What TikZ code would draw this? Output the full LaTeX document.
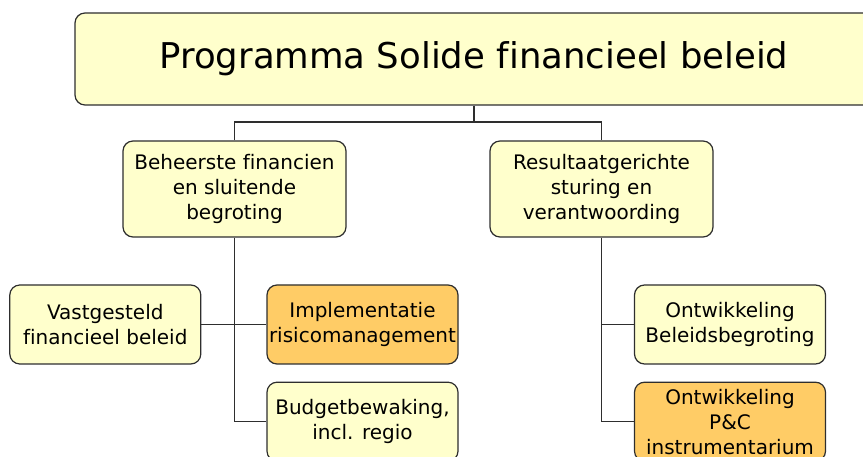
\documentclass[tikz,border=0pt]{standalone}
\usepackage{fontspec}
\setmainfont{DejaVu Sans}[Ligatures=CommonOff]
\usetikzlibrary{positioning}
\definecolor{geel}{HTML}{FFFFCC}
\definecolor{oranje}{HTML}{FFCC66}
\definecolor{rand}{HTML}{2E2E2E}

\begin{document}
\begin{tikzpicture}[x=1pt,y=-1pt,
    punkt/.style={draw=rand, line width=1.2pt, rounded corners=10pt, fill=geel,
        align=center, inner sep=0pt, font=\fontsize{20}{25}\selectfont},
    klein/.style={punkt, minimum width=191pt, minimum height=79pt},
    midden/.style={punkt, minimum width=223pt, minimum height=96pt},
    lijn/.style={draw=rand, line width=1.2pt}]
\useasboundingbox (0,0) rectangle (863,457);
\clip (0,0) rectangle (863,457);

	\node[punkt, minimum width=798pt, minimum height=92pt,
        font=\fontsize{35.5}{40}\selectfont] (prog) at (474,59) {Programma Solide financieel beleid};

    \node[midden] (beheer) at (234.5,189) {Beheerste financien\\en sluitende\\begroting};
    \node[midden] (result) at (601.5,189) {Resultaatgerichte\\sturing en\\verantwoording};

    \node[klein, fill=oranje] (impl) at (362.5,324.5) {Implementatie\\risicomanagement};
    \node[klein, left=65pt of impl] (vast) {Vastgesteld\\financieel beleid};
    \node[klein, below=17pt of impl] (budget) {Budgetbewaking,\\incl. regio};

    \node[klein] (beleid) at (730,324.5) {Ontwikkeling\\Beleidsbegroting};
    \node[klein, fill=oranje, below=17pt of beleid] (pc) {Ontwikkeling\\P\&C\\instrumentarium};

% connectors
    \coordinate (split) at (474,122);
    \draw[lijn] (prog.south) -- (split);
    \draw[lijn] (beheer.north) |- (split) -| (result.north);
    \draw[lijn] (beheer.south) |- (budget.west);
    \draw[lijn] (vast.east) -- (impl.west);
    \draw[lijn] (result.south) |- (pc.west);
    \draw[lijn] (result.south |- beleid.west) -- (beleid.west);
\end{tikzpicture}
\end{document}
